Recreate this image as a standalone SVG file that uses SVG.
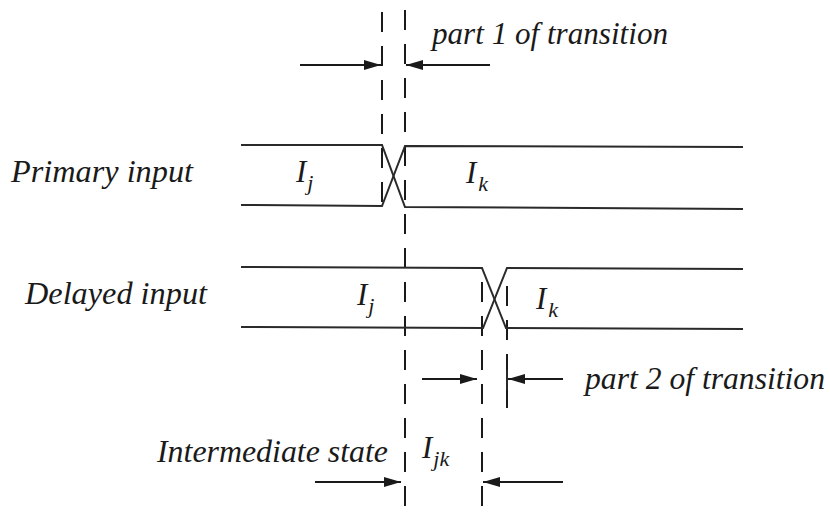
<svg xmlns="http://www.w3.org/2000/svg" width="830" height="515" viewBox="0 0 830 515">
<defs>
<marker id="ah" markerUnits="userSpaceOnUse" markerWidth="18" markerHeight="10" refX="17" refY="5" orient="auto">
<path d="M0,0 L17,5 L0,10 Z" fill="#1a1a1a"/>
</marker>
<style>
.sig{fill:none;stroke:#2a2a2a;stroke-width:2}
.dash{fill:none;stroke:#1a1a1a;stroke-width:2;stroke-dasharray:20 14}
.arr{fill:none;stroke:#1a1a1a;stroke-width:2;marker-end:url(#ah)}
text{font-family:'Liberation Serif','Times New Roman',serif;font-style:italic;font-size:31px;fill:#1a1a1a}
.s{font-size:22px}
</style>
</defs>
<rect width="830" height="515" fill="#ffffff"/>
<g id="guides">
<line class="dash" x1="382" y1="12" x2="382" y2="212"/>
<line class="dash" x1="405" y1="10" x2="405" y2="515"/>
<line class="dash" x1="482" y1="282" x2="482" y2="515"/>
<line class="dash" x1="507" y1="286" x2="507" y2="418"/>
<line class="sig" x1="507" y1="370" x2="507" y2="390"/>
</g>
<g id="primary-input">
<path class="sig" d="M241,145 L382,145 L405,207 L743,209"/>
<path class="sig" d="M241,205 L382,206 L405,146 L743,147"/>
<text x="11" y="182" textLength="182" lengthAdjust="spacingAndGlyphs">Primary input</text>
<text x="296" y="182">I<tspan class="s" dx="1" dy="8">j</tspan></text>
<text x="466" y="183">I<tspan class="s" dx="2" dy="8">k</tspan></text>
</g>
<g id="delayed-input">
<path class="sig" d="M241,267 L482,268 L506,328 L743,329"/>
<path class="sig" d="M241,327 L483,328 L507,268 L743,269"/>
<text x="25" y="304" textLength="182" lengthAdjust="spacingAndGlyphs">Delayed input</text>
<text x="357" y="305">I<tspan class="s" dx="1" dy="8">j</tspan></text>
<text x="536" y="309">I<tspan class="s" dx="2" dy="8">k</tspan></text>
</g>
<g id="intermediate-state">
<text x="157" y="462" textLength="231" lengthAdjust="spacingAndGlyphs">Intermediate state</text>
<text x="422" y="458">I<tspan class="s" dx="1" dy="8">jk</tspan></text>
</g>
<g id="part1">
<text x="432" y="44" textLength="236" lengthAdjust="spacingAndGlyphs">part 1 of transition</text>
</g>
<g id="part2">
<text x="585" y="389" textLength="240" lengthAdjust="spacingAndGlyphs">part 2 of transition</text>
</g>
<g id="connectors">
<line class="arr" x1="300" y1="65" x2="381" y2="65"/>
<line class="arr" x1="490" y1="65" x2="406" y2="65"/>
<line class="arr" x1="422" y1="379" x2="477" y2="379"/>
<line class="arr" x1="563" y1="379" x2="508" y2="379"/>
<line class="arr" x1="315" y1="482" x2="401" y2="482"/>
<line class="arr" x1="563" y1="482" x2="483" y2="482"/>
</g>
</svg>
